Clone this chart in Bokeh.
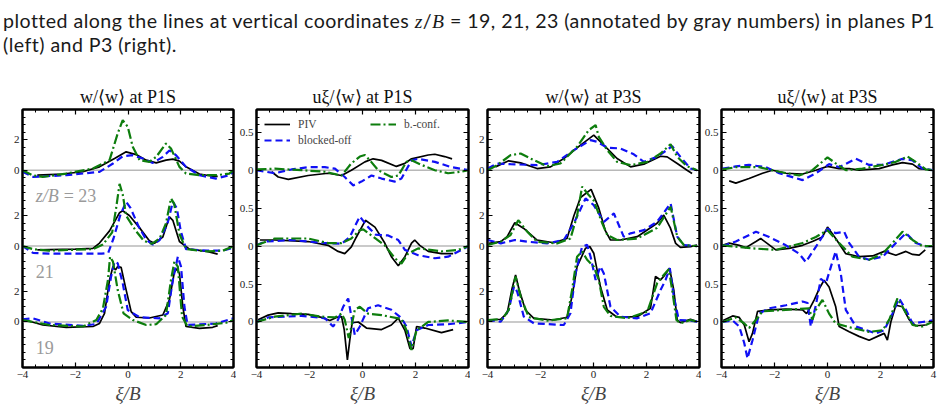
from bokeh.plotting import figure
from bokeh.models import (Range1d, FixedTicker, LinearAxis, Span, Label, Legend,
                          LegendItem, ColumnDataSource, Div)
from bokeh.layouts import row, column
from bokeh.embed import file_html
from bokeh.resources import INLINE

# ---------------- data (xi/B, value) ----------------
XTICKS = [-4, -2, 0, 2, 4]
XLABELS = {-4: "\u22124", -2: "\u22122", 0: "0", 2: "2", 4: "4"}
W_OFFSETS = {23: 10, 21: 5, 19: 0}
U_OFFSETS = {23: 2, 21: 1, 19: 0}
W_TICKS = [0, 2, 5, 7, 10, 12]
W_TICKLABELS = ["0", "2", "0", "2", "0", "2"]
U_TICKS = [0, 0.5, 1, 1.5, 2, 2.5]
U_TICKLABELS = ["0", "0.5", "0", "0.5", "0", "0.5"]
SERIES = ["PIV", "blocked-off", "b.-conf."]
LEVEL_LABELS = ["z/B", "= 23", "21", "19"]

# --- w/<w> at P1S
p1_w23_piv = [(-3.44,-0.33),(-2.5,-0.25),(-1.71,-0.1),(-1.08,0.22),(-0.51,0.77),(-0.07,1.21),(0.31,1.03),(0.69,0.66),(1.07,0.48),(1.44,0.66),(1.70,0.73),(1.95,0.6),(2.20,0.22),(2.71,-0.25),(3.21,-0.40),(3.40,-0.40)]
p1_w23_blk = [(-4.0,-0.1),(-3.6,-0.44),(-2.34,-0.33),(-1.08,-0.11),(-0.57,0.44),(-0.2,0.92),(0.18,0.99),(0.56,0.77),(0.94,0.48),(1.32,0.88),(1.57,1.3),(1.82,0.99),(2.20,0.22),(2.71,-0.33),(3.34,-0.55),(3.84,-0.33),(4.0,-0.1)]
p1_w23_bcf = [(-4.0,0.0),(-3.6,-0.35),(-3.23,-0.44),(-2.34,-0.22),(-1.33,0.11),(-0.70,0.66),(-0.39,2.42),(-0.2,3.3),(-0.01,2.86),(0.18,1.54),(0.44,0.66),(0.81,0.55),(1.07,0.88),(1.44,1.76),(1.63,1.43),(1.95,0.22),(2.20,-0.22),(2.71,-0.33),(3.34,-0.33),(3.84,-0.22),(4.0,0.0)]
p1_w21_piv = [(-3.44,-0.25),(-2.0,-0.2),(-1.33,-0.15),(-1.08,0.2),(-0.7,1.0),(-0.32,2.2),(-0.2,2.33),(0.06,2.0),(0.44,1.2),(0.81,0.35),(1.0,0.18),(1.32,0.6),(1.57,1.93),(1.70,1.7),(1.95,0.3),(2.33,-0.2),(3.0,-0.35),(3.40,-0.53)]
p1_w21_blk = [(-4.0,0.0),(-3.6,-0.45),(-3.0,-0.5),(-1.0,-0.5),(-0.75,-0.45),(-0.55,0.5),(-0.3,2.0),(-0.07,2.92),(0.1,2.5),(0.4,1.3),(0.7,0.4),(0.94,0.1),(1.2,0.4),(1.5,1.5),(1.7,2.92),(1.85,2.5),(2.0,1.0),(2.2,-0.2),(3.0,-0.3),(3.6,-0.3),(4.0,-0.1)]
p1_w21_bcf = [(-4.0,0.0),(-3.6,-0.2),(-3.0,-0.3),(-1.33,-0.2),(-0.95,0.1),(-0.6,0.9),(-0.45,2.5),(-0.32,4.1),(-0.2,3.4),(-0.07,2.0),(0.3,1.0),(0.6,0.35),(0.9,0.15),(1.2,0.5),(1.44,1.5),(1.63,3.14),(1.75,2.8),(1.95,0.8),(2.2,-0.2),(3.0,-0.35),(3.6,-0.3),(4.0,0.0)]
p1_w19_piv = [(-3.9,0.13),(-3.23,-0.2),(-2.34,-0.35),(-1.33,-0.3),(-1.08,-0.1),(-0.89,0.57),(-0.70,2.77),(-0.57,3.65),(-0.47,3.43),(-0.39,3.65),(-0.26,3.6),(-0.1,2.33),(0.12,0.68),(0.31,0.31),(0.81,0.26),(1.32,0.46),(1.57,1.45),(1.76,3.3),(1.86,3.5),(1.95,3.2),(2.08,1.0),(2.2,-0.3),(2.71,-0.42),(3.21,-0.35),(3.4,-0.24)]
p1_w19_blk = [(-4.0,0.18),(-3.6,0.24),(-2.97,-0.1),(-1.71,-0.26),(-1.2,-0.13),(-0.83,1.0),(-0.64,3.0),(-0.51,3.98),(-0.39,3.87),(-0.2,2.55),(-0.01,0.79),(0.44,0.31),(1.19,0.24),(1.51,0.57),(1.7,2.77),(1.89,4.3),(2.01,3.65),(2.14,1.0),(2.26,-0.2),(3.34,-0.1),(4.0,0.24)]
p1_w19_bcf = [(-4.0,0.13),(-2.97,-0.2),(-1.71,-0.3),(-1.2,0.13),(-0.95,0.9),(-0.76,2.77),(-0.68,4.3),(-0.57,3.98),(-0.39,2.1),(-0.17,0.57),(0.18,0.13),(0.69,-0.2),(1.07,-0.15),(1.44,0.46),(1.63,2.77),(1.76,3.98),(1.89,3.65),(2.05,0.35),(2.26,-0.3),(2.96,-0.2),(3.72,-0.05),(4.0,0.13)]

# --- u_xi/<w> at P1S
p1_u23_piv = [(-3.43,-0.02),(-3.18,-0.09),(-2.8,-0.12),(-2.05,-0.07),(-1.3,-0.04),(-0.79,-0.07),(-0.42,0.0),(0.09,0.11),(0.4,0.15),(0.72,0.13),(1.28,0.05),(1.6,0.09),(1.85,0.15),(2.48,0.2),(2.73,0.21),(3.1,0.18),(3.38,0.15)]
p1_u23_blk = [(-4.0,0.0),(-3.3,-0.04),(-2.68,0.01),(-2.05,0.04),(-1.42,0.04),(-1.04,0.02),(-0.67,-0.09),(-0.35,-0.2),(-0.04,-0.15),(0.34,-0.07),(0.72,-0.11),(1.22,-0.15),(1.47,-0.11),(1.85,0.13),(2.1,0.15),(2.73,0.11),(3.36,0.04),(4.0,0.0)]
p1_u23_bcf = [(-4.0,0.01),(-3.3,0.02),(-2.3,0.0),(-1.42,-0.02),(-0.79,-0.07),(-0.42,0.09),(-0.1,0.18),(0.09,0.2),(0.28,0.13),(0.59,0.0),(1.09,-0.09),(1.35,-0.07),(1.66,0.11),(1.85,0.13),(2.23,0.07),(2.73,0.0),(3.23,-0.04),(3.74,-0.02),(4.0,0.0)]
p1_u21_piv = [(-3.87,0.08),(-3.31,0.08),(-2.05,0.06),(-1.3,0.01),(-0.92,-0.07),(-0.67,-0.1),(-0.42,-0.01),(-0.23,0.12),(0.11,0.34),(0.47,0.25),(0.84,0.04),(1.09,-0.14),(1.35,-0.26),(1.6,-0.14),(1.85,0.04),(1.97,0.08),(2.16,0.01),(2.48,-0.07),(2.98,-0.1),(3.42,-0.1)]
p1_u21_blk = [(-4.0,0.01),(-3.69,0.06),(-2.68,0.08),(-1.42,0.04),(-0.79,0.03),(-0.48,0.12),(-0.23,0.3),(-0.1,0.39),(0.21,0.25),(0.5,0.15),(0.97,0.14),(1.35,0.08),(1.6,-0.05),(2.1,-0.12),(2.73,-0.16),(3.23,-0.14),(3.74,-0.05),(4.0,0.0)]
p1_u21_bcf = [(-4.0,0.01),(-3.31,0.1),(-2.05,0.1),(-1.3,0.04),(-0.79,0.04),(-0.42,0.1),(-0.1,0.21),(0.03,0.22),(0.34,0.14),(0.84,0.01),(1.22,-0.16),(1.47,-0.23),(1.72,-0.1),(2.1,-0.03),(2.98,-0.07),(3.61,-0.05),(4.0,0.0)]
p1_u19_piv = [(-3.94,0.03),(-3.56,0.09),(-3.18,0.12),(-2.68,0.11),(-2.05,0.1),(-1.55,0.06),(-1.23,0.02),(-0.98,0.06),(-0.79,0.07),(-0.69,-0.1),(-0.57,-0.5),(-0.48,-0.24),(-0.39,-0.01),(-0.16,0.0),(0.15,-0.08),(0.72,-0.1),(1.09,-0.04),(1.35,0.05),(1.6,-0.11),(1.79,-0.35),(1.91,-0.35),(2.04,-0.06),(2.35,-0.08),(2.98,-0.14),(3.42,-0.1)]
p1_u19_blk = [(-4.0,0.0),(-3.56,0.06),(-2.3,0.08),(-1.42,0.05),(-1.11,-0.06),(-0.92,0.03),(-0.73,0.2),(-0.54,0.31),(-0.42,0.07),(-0.29,-0.17),(-0.1,-0.06),(0.21,0.18),(0.59,0.22),(1.09,0.16),(1.47,0.05),(1.66,-0.06),(1.85,-0.32),(2.04,-0.11),(2.48,-0.04),(3.23,-0.03),(4.0,0.0)]
p1_u19_bcf = [(-4.0,0.0),(-3.31,0.07),(-2.3,0.11),(-1.55,0.07),(-1.04,0.06),(-0.79,0.11),(-0.67,0.03),(-0.52,-0.21),(-0.42,-0.06),(-0.29,0.16),(-0.1,0.2),(0.21,0.11),(0.72,0.09),(1.47,0.04),(1.66,-0.11),(1.85,-0.37),(2.04,-0.11),(2.48,0.0),(3.23,0.02),(4.0,0.0)]

# --- w/<w> at P3S
p3_w23_piv = [(-3.7,0.22),(-3.2,0.62),(-2.75,0.48),(-2.13,0.11),(-1.62,0.22),(-1.12,0.77),(-0.49,1.65),(0.01,2.31),(0.39,1.65),(0.89,0.77),(1.4,0.22),(1.9,0.4),(2.53,0.92),(2.78,0.88),(3.16,0.44),(3.53,0.0),(3.72,-0.22)]
p3_w23_blk = [(-3.99,0.11),(-3.64,0.44),(-3.13,0.4),(-2.13,0.33),(-1.37,0.55),(-0.74,1.32),(-0.11,1.98),(0.14,1.87),(0.52,1.49),(1.02,1.43),(1.52,1.05),(1.9,0.55),(2.4,0.88),(2.97,1.58),(3.28,0.88),(3.66,0.11),(3.91,0.0)]
p3_w23_bcf = [(-3.99,0.0),(-3.64,0.33),(-3.13,0.99),(-2.75,1.1),(-2.38,0.77),(-1.75,0.26),(-1.25,0.44),(-0.62,1.54),(-0.18,2.64),(0.08,2.97),(0.2,2.2),(0.52,1.32),(0.89,0.55),(1.4,0.33),(2.03,0.55),(2.53,1.1),(2.91,1.71),(3.16,0.88),(3.53,0.26),(3.91,0.0)]
p3_w21_piv = [(-3.95,0.18),(-3.5,0.29),(-3.26,0.62),(-2.97,1.54),(-2.63,1.16),(-2.13,0.4),(-1.5,0.22),(-1.0,0.5),(-0.74,2.0),(-0.49,3.2),(-0.09,3.74),(0.2,2.5),(0.45,1.0),(0.64,0.4),(1.02,0.4),(1.65,0.62),(2.4,1.5),(2.65,2.04),(2.9,1.2),(3.1,0.18),(3.28,-0.09),(3.66,-0.04),(3.91,0.07)]
p3_w21_blk = [(-3.99,0.4),(-3.5,0.18),(-2.97,0.4),(-2.5,0.29),(-1.75,0.18),(-1.12,0.4),(-0.74,1.5),(-0.3,3.14),(0.01,2.7),(0.39,1.6),(0.77,2.15),(1.14,0.62),(1.4,0.84),(1.9,1.05),(2.4,1.6),(2.91,2.81),(3.16,0.62),(3.41,0.07),(3.91,0.0)]
p3_w21_bcf = [(-3.99,0.07),(-3.5,0.29),(-3.13,0.73),(-2.84,1.71),(-2.5,0.95),(-2.13,0.29),(-1.37,0.18),(-0.87,0.5),(-0.62,2.0),(-0.43,3.91),(-0.18,3.36),(0.01,3.0),(0.33,1.5),(0.52,0.73),(0.89,0.4),(1.65,0.5),(2.4,1.2),(2.91,2.59),(3.16,0.62),(3.41,0.07),(3.91,0.0)]
p3_w19_piv = [(-3.99,0.13),(-3.5,0.18),(-3.26,0.57),(-3.07,2.22),(-2.94,3.1),(-2.82,2.22),(-2.57,0.79),(-2.25,0.24),(-1.5,0.13),(-1.0,0.31),(-0.81,1.67),(-0.62,3.65),(-0.3,4.86),(-0.14,4.97),(0.01,4.53),(0.11,3.65),(0.26,2.33),(0.52,0.79),(0.89,0.31),(1.65,0.35),(2.15,0.9),(2.34,3.0),(2.53,2.77),(2.65,3.0),(2.87,3.54),(3.03,2.1),(3.16,0.13),(3.28,-0.04),(3.66,0.18),(3.91,0.02)]
p3_w19_blk = [(-3.99,0.13),(-3.5,0.02),(-3.2,0.79),(-3.0,2.33),(-2.88,2.0),(-2.63,0.35),(-2.25,-0.09),(-1.12,-0.2),(-0.87,0.57),(-0.68,3.2),(-0.43,4.97),(-0.24,5.08),(-0.11,4.3),(0.08,2.77),(0.26,3.65),(0.39,3.2),(0.64,1.0),(1.02,0.35),(1.65,0.24),(2.15,0.57),(2.53,2.1),(2.72,2.77),(2.88,3.54),(3.03,1.67),(3.22,0.13),(3.66,0.09),(3.91,0.02)]
p3_w19_bcf = [(-3.99,0.13),(-3.45,0.18),(-3.2,0.79),(-2.94,3.0),(-2.75,1.67),(-2.44,0.31),(-1.75,0.09),(-1.0,0.24),(-0.81,2.1),(-0.62,4.3),(-0.43,4.64),(-0.24,4.1),(0.01,3.65),(0.2,2.77),(0.39,1.0),(0.64,0.4),(1.27,0.24),(2.03,0.68),(2.4,2.55),(2.65,3.1),(2.84,3.47),(2.97,2.1),(3.13,0.13),(3.28,-0.09),(3.66,0.13),(3.91,0.02)]

# --- u_xi/<w> at P3S
p3_u23_piv = [(-3.71,-0.14),(-3.46,-0.17),(-2.96,-0.11),(-2.45,-0.04),(-2.08,0.0),(-1.57,-0.04),(-0.94,-0.05),(-0.44,0.0),(0.0,0.05),(0.44,0.02),(0.82,0.02),(1.19,0.0),(1.95,0.02),(2.45,0.07),(2.83,0.1),(3.21,0.08),(3.46,0.02),(3.71,0.01)]
p3_u23_blk = [(-3.96,0.02),(-3.46,0.05),(-2.96,0.07),(-2.33,0.04),(-1.82,-0.04),(-0.94,-0.13),(-0.44,-0.04),(0.06,0.08),(0.44,0.04),(1.07,0.15),(1.57,0.07),(2.08,0.07),(2.83,0.15),(3.21,0.13),(3.58,0.02),(3.96,0.0)]
p3_u23_bcf = [(-3.96,0.01),(-3.46,0.04),(-2.58,0.04),(-1.82,-0.02),(-1.07,-0.07),(-0.57,0.0),(0.0,0.17),(0.31,0.09),(0.69,0.0),(1.32,0.02),(2.08,0.07),(2.58,0.11),(3.02,0.18),(3.33,0.11),(3.71,0.01),(3.96,0.0)]
p3_u21_piv = [(-3.96,0.01),(-3.71,0.04),(-3.33,0.01),(-3.08,-0.02),(-2.7,0.06),(-2.52,0.1),(-1.95,-0.05),(-1.45,-0.03),(-0.94,0.01),(-0.57,0.06),(-0.19,0.12),(0.0,0.25),(0.31,0.1),(0.69,-0.1),(1.19,-0.14),(1.7,-0.13),(2.14,-0.07),(2.58,-0.12),(2.96,-0.07),(3.21,-0.11),(3.46,-0.12),(3.69,-0.05)]
p3_u21_blk = [(-3.96,0.0),(-3.46,0.06),(-2.7,0.19),(-2.2,0.12),(-1.57,0.01),(-1.07,-0.1),(-0.82,-0.21),(-0.44,-0.01),(0.0,0.23),(0.31,0.17),(0.63,0.19),(0.82,0.04),(1.19,-0.14),(1.57,-0.18),(2.08,-0.14),(2.58,0.04),(2.96,0.17),(3.33,0.04),(3.71,0.0),(3.96,0.0)]
p3_u21_bcf = [(-3.96,0.01),(-2.83,-0.03),(-1.95,-0.05),(-0.94,0.04),(-0.44,0.12),(0.0,0.21),(0.44,0.04),(0.94,-0.14),(1.57,-0.18),(2.08,-0.1),(2.45,0.04),(2.83,0.19),(3.21,0.08),(3.58,0.0),(3.96,0.0)]
p3_u19_piv = [(-3.94,0.02),(-3.58,0.08),(-3.33,0.06),(-3.14,-0.04),(-2.96,-0.26),(-2.83,-0.15),(-2.64,0.14),(-2.2,0.16),(-1.57,0.17),(-0.94,0.16),(-0.79,0.11),(-0.67,0.18),(-0.5,0.29),(-0.31,0.44),(-0.13,0.55),(0.06,0.46),(0.31,0.2),(0.44,-0.06),(0.82,-0.13),(1.19,-0.19),(1.57,-0.24),(1.95,-0.18),(2.14,-0.15),(2.26,-0.24),(2.39,0.0),(2.58,0.22),(2.83,0.2),(3.08,0.03),(3.33,-0.05),(3.71,-0.04)]
p3_u19_blk = [(-3.96,0.0),(-3.58,0.02),(-3.33,-0.06),(-3.14,-0.28),(-3.02,-0.48),(-2.83,-0.24),(-2.58,0.11),(-2.2,0.18),(-1.57,0.22),(-0.94,0.27),(-0.75,0.25),(-0.63,-0.06),(-0.44,0.22),(-0.25,0.57),(-0.06,0.51),(0.13,0.73),(0.31,0.93),(0.5,0.64),(0.69,0.16),(1.07,-0.06),(1.82,-0.15),(2.14,-0.11),(2.45,0.11),(2.7,0.31),(2.96,0.16),(3.21,-0.02),(3.58,0.0),(3.96,0.02)]
p3_u19_bcf = [(-3.96,0.0),(-3.46,0.06),(-3.14,-0.02),(-2.96,-0.08),(-2.7,0.03),(-2.45,0.14),(-1.57,0.16),(-0.69,0.18),(-0.57,0.03),(-0.44,0.16),(-0.19,0.29),(0.06,0.11),(0.31,-0.02),(0.94,-0.08),(1.57,-0.13),(2.08,-0.11),(2.33,0.03),(2.64,0.31),(2.83,0.2),(3.21,-0.04),(3.58,-0.06),(3.96,0.0)]

PANELS = [
    ("w", "w/\u27e8w\u27e9 at P1S", {23: (p1_w23_piv, p1_w23_blk, p1_w23_bcf), 21: (p1_w21_piv, p1_w21_blk, p1_w21_bcf), 19: (p1_w19_piv, p1_w19_blk, p1_w19_bcf)}),
    ("u", "u\u03be/\u27e8w\u27e9 at P1S", {23: (p1_u23_piv, p1_u23_blk, p1_u23_bcf), 21: (p1_u21_piv, p1_u21_blk, p1_u21_bcf), 19: (p1_u19_piv, p1_u19_blk, p1_u19_bcf)}),
    ("w", "w/\u27e8w\u27e9 at P3S", {23: (p3_w23_piv, p3_w23_blk, p3_w23_bcf), 21: (p3_w21_piv, p3_w21_blk, p3_w21_bcf), 19: (p3_w19_piv, p3_w19_blk, p3_w19_bcf)}),
    ("u", "u\u03be/\u27e8w\u27e9 at P3S", {23: (p3_u23_piv, p3_u23_blk, p3_u23_bcf), 21: (p3_u21_piv, p3_u21_blk, p3_u21_bcf), 19: (p3_u19_piv, p3_u19_blk, p3_u19_bcf)}),
]

# ---------------- styling ----------------
SERIF = "Liberation Serif"
STYLES = [
    dict(line_color="black", line_width=1.7),
    dict(line_color="#1010f5", line_width=2.2, line_dash="7 4"),
    dict(line_color="#0d7d0d", line_width=2.2, line_dash="10 3 2 3"),
]
BORDERS = [(22, 3), (17, 2), (17, 2), (17, 10)]

x_minor = [round(-4 + 0.5 * i, 2) for i in range(17)]


def style_axis(ax, ticker, overrides, show_labels):
    ax.ticker = ticker
    ax.axis_line_color = "black"
    ax.axis_line_width = 2
    ax.major_tick_in = 5
    ax.major_tick_out = 0
    ax.minor_tick_in = 3
    ax.minor_tick_out = 0
    ax.major_tick_line_width = 1.2
    ax.minor_tick_line_width = 1
    ax.major_label_text_font = SERIF
    if show_labels:
        ax.major_label_overrides = overrides
        ax.major_label_text_color = "#222222"
        ax.major_label_text_font_size = "11px"
        ax.major_label_standoff = 3
    else:
        ax.major_label_text_color = None
        ax.major_label_text_font_size = "0px"
        ax.major_label_standoff = 0


figs = []
for idx, (kind, title, curves) in enumerate(PANELS):
    if kind == "w":
        yr = Range1d(-3, 14)
        offsets = W_OFFSETS
        yt = FixedTicker(ticks=W_TICKS, minor_ticks=[round(-3 + 0.5 * i, 2) for i in range(35)])
        yover = {t: l for t, l in zip(W_TICKS, W_TICKLABELS)}
    else:
        yr = Range1d(-0.6, 2.8)
        offsets = U_OFFSETS
        yt = FixedTicker(ticks=U_TICKS, minor_ticks=[round(-0.6 + 0.1 * i, 2) for i in range(35)])
        yover = {t: l for t, l in zip(U_TICKS, U_TICKLABELS)}
    xt = FixedTicker(ticks=XTICKS, minor_ticks=x_minor)
    bl, br = BORDERS[idx]
    p = figure(frame_width=212 if idx else 211, frame_height=258,
               x_range=Range1d(-4, 4), y_range=yr,
               output_backend="svg", toolbar_location=None,
               title=title, min_border_left=bl, min_border_right=br,
               min_border_top=45, min_border_bottom=42,
               outline_line_color="black", outline_line_width=2)
    p.grid.visible = False
    p.title.text_font = SERIF
    p.title.text_font_size = "18px"
    p.title.text_font_style = "normal"
    p.title.align = "center"
    p.title.text_color = "#111111"
    p.title.standoff = 5
    style_axis(p.xaxis[0], xt, XLABELS, True)
    style_axis(p.yaxis[0], yt, yover, True)
    p.xaxis[0].axis_label = "\u03be/B"
    p.xaxis[0].axis_label_text_font = SERIF
    p.xaxis[0].axis_label_text_font_style = "italic"
    p.xaxis[0].axis_label_text_font_size = "19px"
    p.xaxis[0].axis_label_standoff = 2
    ra = LinearAxis()
    style_axis(ra, yt, None, False)
    p.add_layout(ra, "right")
    ta = LinearAxis()
    style_axis(ta, xt, None, False)
    p.add_layout(ta, "above")

    renderers = {}
    for lev in (23, 21, 19):
        off = offsets[lev]
        p.add_layout(Span(location=off, dimension="width", line_color="#b8b8b8",
                          line_width=1.5, level="underlay"))
        for s, pts in enumerate(curves[lev]):
            src = ColumnDataSource(dict(x=[q[0] for q in pts], y=[q[1] + off for q in pts]))
            r = p.line("x", "y", source=src, **STYLES[s])
            renderers.setdefault(s, r)

    if idx == 0:
        gray = dict(text_color="#9a9a9a", text_font=SERIF, text_font_size="18px",
                    text_baseline="middle")
        p.add_layout(Label(x=-3.5, y=8.3, text=LEVEL_LABELS[0], text_font_style="italic", **gray))
        p.add_layout(Label(x=-3.5, y=8.3, x_offset=28, text=LEVEL_LABELS[1], **gray))
        p.add_layout(Label(x=-3.5, y=3.3, text=LEVEL_LABELS[2], **gray))
        p.add_layout(Label(x=-3.5, y=-1.65, text=LEVEL_LABELS[3], **gray))
    if idx == 1:
        leg = Legend(items=[LegendItem(label=SERIES[s], renderers=[renderers[s]]) for s in range(3)],
                     location="top_left", nrows=2, orientation="vertical",
                     label_text_font=SERIF, label_text_font_size="11.5px",
                     glyph_width=26, glyph_height=14, spacing=2, padding=2, margin=6,
                     label_standoff=8, label_width=70,
                     background_fill_alpha=0, border_line_alpha=0)
        p.add_layout(leg)
    figs.append(p)

caption = Div(text=(
    '<div style="font-family:Lato;font-size:19.6px;letter-spacing:0.45px;line-height:23px;'
    'color:#1a1a1a;padding:9px 0 0 3px;white-space:nowrap">'
    'plotted along the lines at vertical coordinates '
    '<i style="font-family:\'Liberation Serif\'">z</i>/<i style="font-family:\'Liberation Serif\'">B</i>'
    ' = 19, 21, 23 (annotated by gray numbers) in planes P1<br>(left) and P3 (right).</div>'),
    width=942, height=64, margin=0)

layout = column(caption, row(*figs, spacing=0), spacing=0)

with open("out.html", "w") as f:
    f.write(file_html(layout, INLINE))
